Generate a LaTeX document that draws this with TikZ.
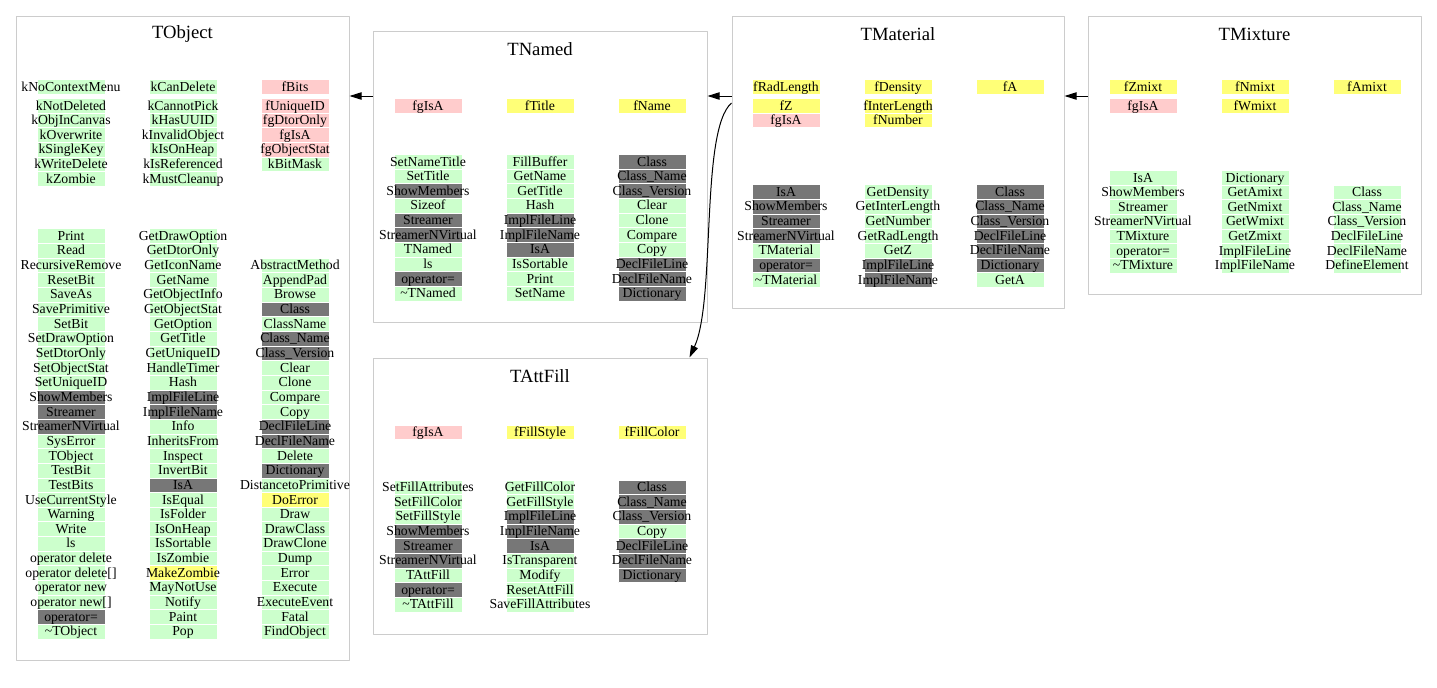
\documentclass[tikz,border=0pt]{standalone}
\usepackage{fontspec}
\setmainfont{Liberation Serif}
\usepackage{xcolor}
\usepackage{tikz}
\usetikzlibrary{arrows.meta}

\definecolor{cG}{HTML}{CCFFCC}
\definecolor{cP}{HTML}{FFCCCC}
\definecolor{cY}{HTML}{FFFF77}
\definecolor{cD}{HTML}{777777}
\definecolor{boxgray}{HTML}{CCCCCC}

\tikzset{
  cell/.style={inner xsep=0pt, inner ysep=0pt, minimum height=11pt,
    text height=7.5pt, text depth=1pt, draw=white, line width=0.3pt,
    font=\fontsize{10.3}{11}\selectfont},
  classbox/.style={draw=boxgray, line width=0.75pt, inner sep=0pt},
  classtitle/.style={font=\fontsize{14}{16}\selectfont},
  inherit/.style={-{Triangle[length=9pt,width=5.5pt]}, line width=0.75pt},
}

\def\rh{14.65}
% one column of cells: name prefix, x, y of first cell, text/colour list
\newcommand\cellcol[4]{%
  \foreach \txt/\clr [count=\i from 0] in {#4}
    \node[cell, fill=\clr] (#1-\i) at (#2, #3+\i*\rh) {\makebox[51pt]{\txt}};
}

\begin{document}
\begin{tikzpicture}[x=0.75pt, y=-0.75pt, line join=round]

  \useasboundingbox (0,0) rectangle (1437,687);

  % class frames
  \node[classbox, minimum width=249.75pt, minimum height=483pt] (tobject) at (182.5,338) {};
  \node[classbox, minimum width=250.5pt, minimum height=218.25pt] (tnamed) at (540,176.5) {};
  \node[classbox, minimum width=249pt, minimum height=219pt] (tmaterial) at (898,162) {};
  \node[classbox, minimum width=249.75pt, minimum height=208.5pt] (tmixture) at (1254.5,155) {};
  \node[classbox, minimum width=250.5pt, minimum height=207pt] (tattfill) at (540,496) {};

  % titles
  \node[classtitle] (tobject-title) at (182.5,34) {TObject};
  \node[classtitle] (tnamed-title) at (540,49) {TNamed};
  \node[classtitle] (tmaterial-title) at (898,34) {TMaterial};
  \node[classtitle] (tmixture-title) at (1254.5,34) {TMixture};
  \node[classtitle] (tattfill-title) at (540,376) {TAttFill};

  % TObject
  \cellcol{obfa}{71}{87}{kNoContextMenu/cG}
  \cellcol{obfb}{71}{105.7}{kNotDeleted/cG, kObjInCanvas/cG, kOverwrite/cG,
    kSingleKey/cG, kWriteDelete/cG, kZombie/cG}
  \cellcol{obfc}{183}{87}{kCanDelete/cG}
  \cellcol{obfd}{183}{105.7}{kCannotPick/cG, kHasUUID/cG, kInvalidObject/cG,
    kIsOnHeap/cG, kIsReferenced/cG, kMustCleanup/cG}
  \cellcol{obfe}{295}{87}{fBits/cP}
  \cellcol{obff}{295}{105.7}{fUniqueID/cP, fgDtorOnly/cP, fgIsA/cP,
    fgObjectStat/cP, kBitMask/cG}
  \cellcol{obma}{71}{236}{Print/cG, Read/cG, RecursiveRemove/cG, ResetBit/cG,
    SaveAs/cG, SavePrimitive/cG, SetBit/cG, SetDrawOption/cG, SetDtorOnly/cG,
    SetObjectStat/cG, SetUniqueID/cG, ShowMembers/cD, Streamer/cD,
    StreamerNVirtual/cD, SysError/cG, TObject/cG, TestBit/cG, TestBits/cG,
    UseCurrentStyle/cG, Warning/cG, Write/cG, ls/cG, operator delete/cG,
    operator delete[]/cG, operator new/cG, operator new[]/cG, operator=/cD,
    {\textasciitilde}TObject/cG}
  \cellcol{obmb}{183}{236}{GetDrawOption/cG, GetDtorOnly/cG, GetIconName/cG,
    GetName/cG, GetObjectInfo/cG, GetObjectStat/cG, GetOption/cG, GetTitle/cG,
    GetUniqueID/cG, HandleTimer/cG, Hash/cG, ImplFileLine/cD, ImplFileName/cD,
    Info/cG, InheritsFrom/cG, Inspect/cG, InvertBit/cG, IsA/cD, IsEqual/cG,
    IsFolder/cG, IsOnHeap/cG, IsSortable/cG, IsZombie/cG, MakeZombie/cY,
    MayNotUse/cG, Notify/cG, Paint/cG, Pop/cG}
  \cellcol{obmc}{295}{265.3}{AbstractMethod/cG, AppendPad/cG, Browse/cG,
    Class/cD, ClassName/cG, Class\_Name/cD, Class\_Version/cD, Clear/cG,
    Clone/cG, Compare/cG, Copy/cG, DeclFileLine/cD, DeclFileName/cD,
    Delete/cG, Dictionary/cD, DistancetoPrimitive/cG, DoError/cY, Draw/cG,
    DrawClass/cG, DrawClone/cG, Dump/cG, Error/cG, Execute/cG,
    ExecuteEvent/cG, Fatal/cG, FindObject/cG}

  % TNamed
  \cellcol{nafa}{428}{105.7}{fgIsA/cP}
  \cellcol{nafb}{540}{105.7}{fTitle/cY}
  \cellcol{nafc}{652}{105.7}{fName/cY}
  \cellcol{nama}{428}{161.7}{SetNameTitle/cG, SetTitle/cG, ShowMembers/cD,
    Sizeof/cG, Streamer/cD, StreamerNVirtual/cD, TNamed/cG, ls/cG,
    operator=/cD, {\textasciitilde}TNamed/cG}
  \cellcol{namb}{540}{161.7}{FillBuffer/cG, GetName/cG, GetTitle/cG, Hash/cG,
    ImplFileLine/cD, ImplFileName/cD, IsA/cD, IsSortable/cG, Print/cG,
    SetName/cG}
  \cellcol{namc}{652}{161.7}{Class/cD, Class\_Name/cD, Class\_Version/cD,
    Clear/cG, Clone/cG, Compare/cG, Copy/cG, DeclFileLine/cD,
    DeclFileName/cD, Dictionary/cD}

  % TMaterial
  \cellcol{mafa}{786}{87}{fRadLength/cY}
  \cellcol{mafb}{786}{105.7}{fZ/cY, fgIsA/cP}
  \cellcol{mafc}{898}{87}{fDensity/cY}
  \cellcol{mafd}{898}{105.7}{fInterLength/cY, fNumber/cY}
  \cellcol{mafe}{1010}{87}{fA/cY}
  \cellcol{mama}{786}{192}{IsA/cD, ShowMembers/cD, Streamer/cD,
    StreamerNVirtual/cD, TMaterial/cG, operator=/cD,
    {\textasciitilde}TMaterial/cG}
  \cellcol{mamb}{898}{192}{GetDensity/cG, GetInterLength/cG, GetNumber/cG,
    GetRadLength/cG, GetZ/cG, ImplFileLine/cD, ImplFileName/cD}
  \cellcol{mamc}{1010}{192}{Class/cD, Class\_Name/cD, Class\_Version/cD,
    DeclFileLine/cD, DeclFileName/cD, Dictionary/cD, GetA/cG}

  % TMixture
  \cellcol{mifa}{1143}{87}{fZmixt/cY}
  \cellcol{mifb}{1143}{105.7}{fgIsA/cP}
  \cellcol{mifc}{1255}{87}{fNmixt/cY}
  \cellcol{mifd}{1255}{105.7}{fWmixt/cY}
  \cellcol{mife}{1367}{87}{fAmixt/cY}
  \cellcol{mima}{1143}{177.7}{IsA/cG, ShowMembers/cG, Streamer/cG,
    StreamerNVirtual/cG, TMixture/cG, operator=/cG,
    {\textasciitilde}TMixture/cG}
  \cellcol{mimb}{1255}{177.7}{Dictionary/cG, GetAmixt/cG, GetNmixt/cG,
    GetWmixt/cG, GetZmixt/cG, ImplFileLine/cG, ImplFileName/cG}
  \cellcol{mimc}{1367}{192.35}{Class/cG, Class\_Name/cG, Class\_Version/cG,
    DeclFileLine/cG, DeclFileName/cG, DefineElement/cG}

  % TAttFill
  \cellcol{affa}{428}{432.3}{fgIsA/cP}
  \cellcol{affb}{540}{432.3}{fFillStyle/cY}
  \cellcol{affc}{652}{432.3}{fFillColor/cY}
  \cellcol{afma}{428}{487.3}{SetFillAttributes/cG, SetFillColor/cG,
    SetFillStyle/cG, ShowMembers/cD, Streamer/cD, StreamerNVirtual/cD,
    TAttFill/cG, operator=/cD, {\textasciitilde}TAttFill/cG}
  \cellcol{afmb}{540}{487.3}{GetFillColor/cG, GetFillStyle/cG,
    ImplFileLine/cD, ImplFileName/cD, IsA/cD, IsTransparent/cG, Modify/cG,
    ResetAttFill/cG, SaveFillAttributes/cG}
  \cellcol{afmc}{652}{487.3}{Class/cD, Class\_Name/cD, Class\_Version/cD,
    Copy/cG, DeclFileLine/cD, DeclFileName/cD, Dictionary/cD}

  % inheritance arrows
  \coordinate (arrowrow) at (0,96);
  \coordinate (fillrow) at (0,103);
  \draw[inherit] (tnamed.west |- arrowrow) -- (tobject.east |- arrowrow);
  \draw[inherit] (tmaterial.west |- arrowrow) -- (tnamed.east |- arrowrow);
  \draw[inherit] (tmixture.west |- arrowrow) -- (tmaterial.east |- arrowrow);
  \draw[inherit] (tmaterial.west |- fillrow) .. controls (700,130) and (716,300)
    .. ([xshift=-13.5pt]tattfill.north east);

\end{tikzpicture}
\end{document}
